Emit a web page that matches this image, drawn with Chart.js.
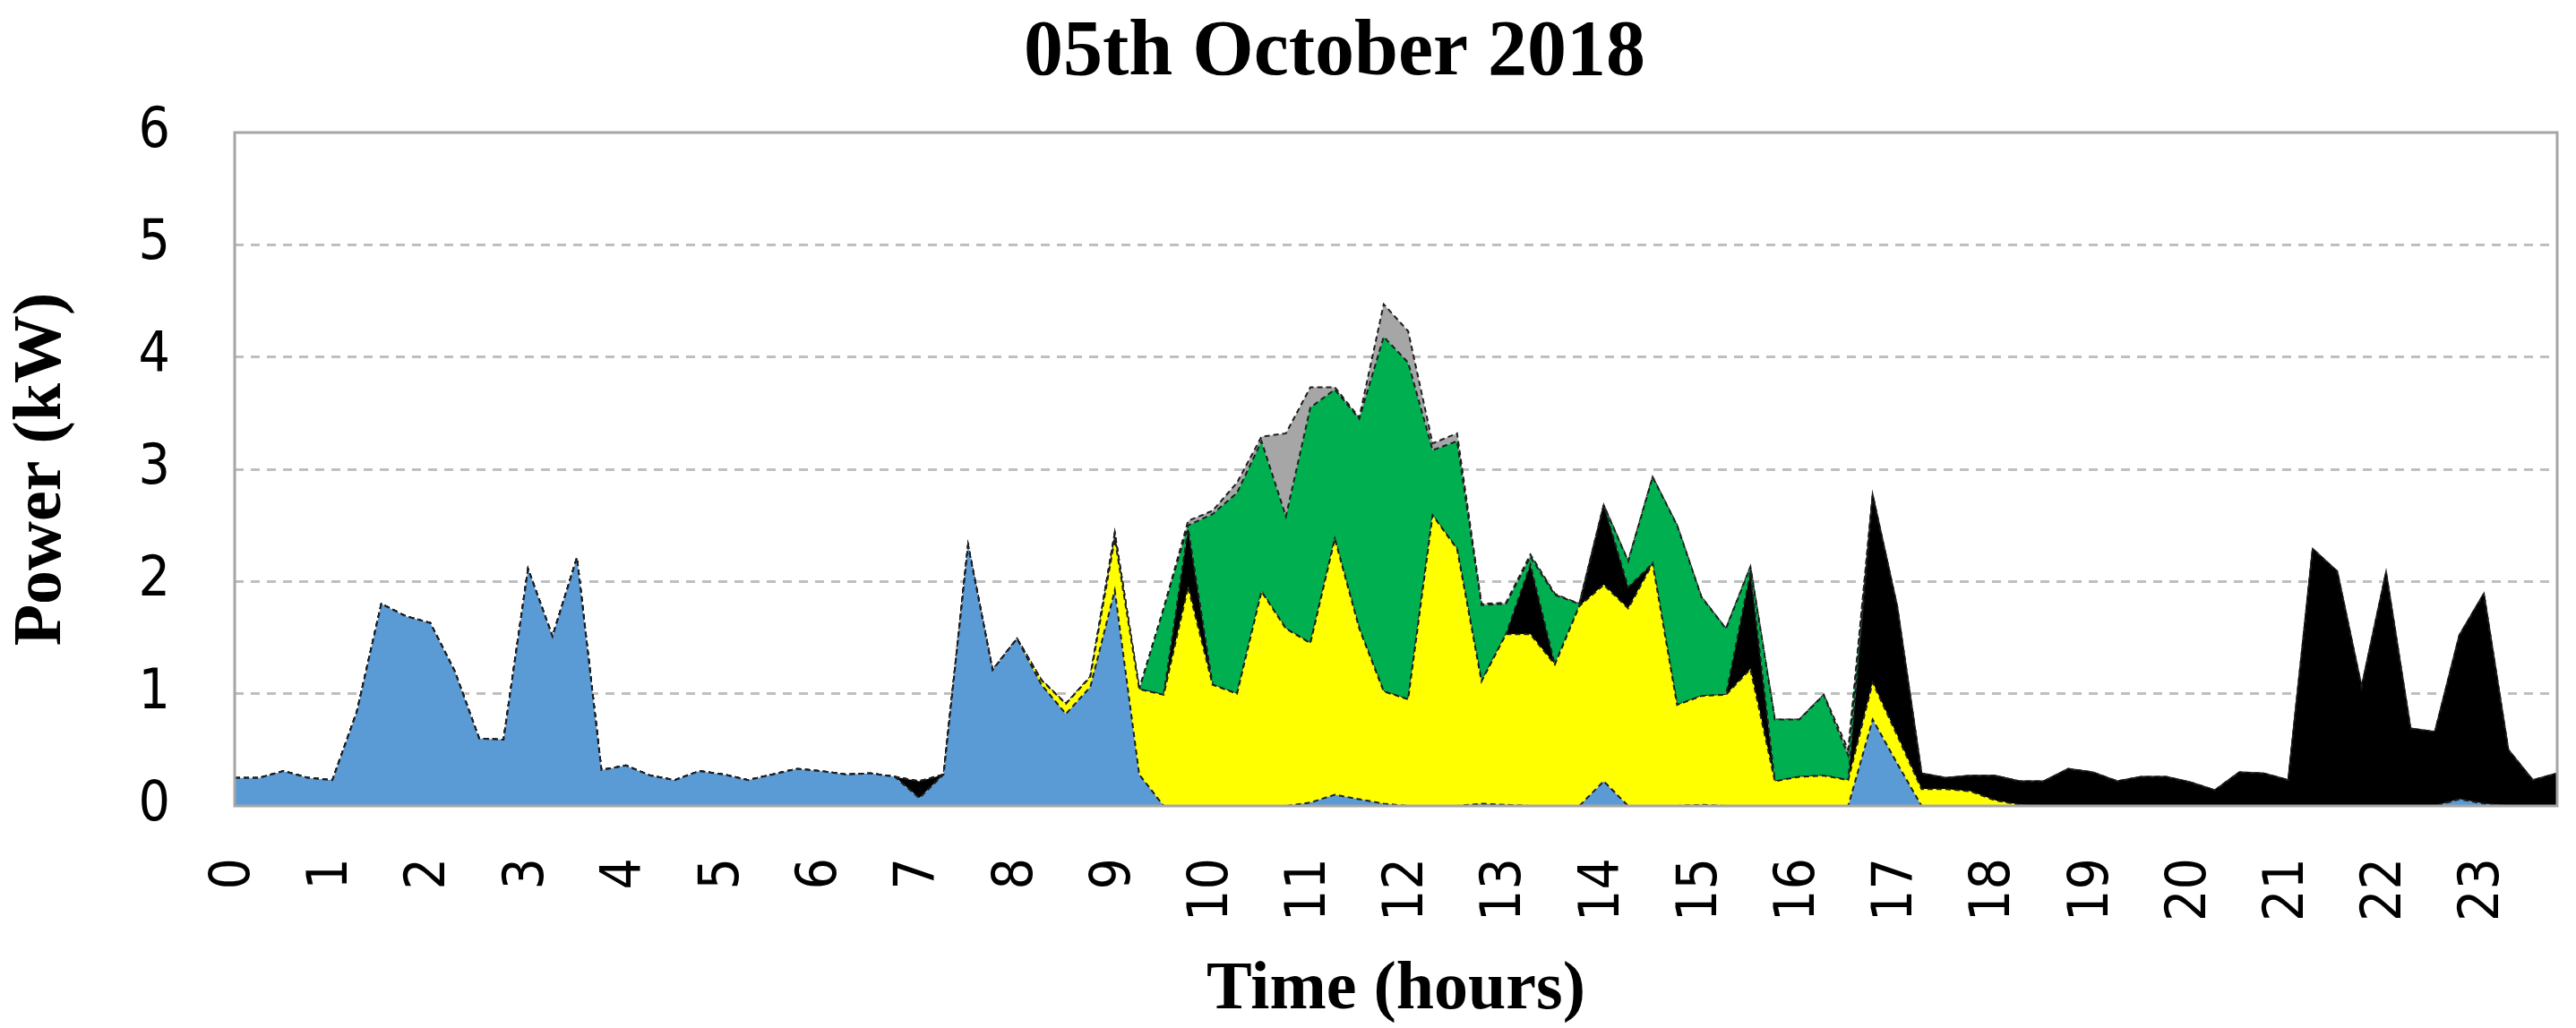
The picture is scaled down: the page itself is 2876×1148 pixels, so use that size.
<!DOCTYPE html>
<html>
<head>
<meta charset="utf-8">
<script src="https://cdn.jsdelivr.net/npm/chart.js@4.4.1/dist/chart.umd.min.js"></script>
<style>
  html, body { margin: 0; padding: 0; background: #ffffff; }
  #contenedor { width: 2876px; height: 1148px; }
</style>
</head>
<body>
<div id="contenedor"><canvas id="grafico"></canvas></div>
<script>
const TITULO = "05th October 2018";
const HORAS = ["0", "1", "2", "3", "4", "5", "6", "7", "8", "9", "10", "11",
  "12", "13", "14", "15", "16", "17", "18", "19", "20", "21", "22", "23"];
const PASOS_POR_HORA = 4;

const AZUL = [
  0.25, 0.25, 0.31, 0.25, 0.23, 0.84, 1.80, 1.69, 1.63, 1.20, 0.60, 0.59,
  2.11, 1.51, 2.21, 0.32, 0.36, 0.27, 0.23, 0.31, 0.28, 0.23, 0.28, 0.33,
  0.31, 0.28, 0.29, 0.26, 0.07, 0.28, 2.32, 1.21, 1.49, 1.08, 0.82, 1.06,
  1.92, 0.28, 0, 0, 0, 0, 0, 0, 0.03, 0.10, 0.06, 0.02,
  0, 0, 0, 0.02, 0.01, 0, 0, 0, 0.22, 0, 0, 0,
  0.01, 0, 0, 0, 0, 0, 0, 0.77, 0.38, 0, 0, 0,
  0, 0, 0, 0, 0, 0, 0, 0, 0, 0, 0, 0,
  0, 0, 0, 0, 0, 0, 0, 0.06, 0.02, 0, 0, 0
];
const AMARILLO = [
  0, 0, 0, 0, 0, 0, 0, 0, 0, 0, 0, 0,
  0, 0, 0, 0, 0, 0, 0, 0, 0, 0, 0, 0,
  0, 0, 0, 0, 0, 0, 0, 0, 0, 0.04, 0.09, 0.09,
  0.46, 0.76, 0.99, 1.95, 1.08, 1.00, 1.91, 1.58, 1.42, 2.28, 1.52, 1.00,
  0.95, 2.59, 2.29, 1.09, 1.52, 1.53, 1.26, 1.78, 1.75, 1.76, 2.16, 0.90,
  0.97, 0.99, 1.22, 0.22, 0.26, 0.27, 0.23, 0.33, 0.25, 0.15, 0.15, 0.13,
  0.05, 0.01, 0, 0, 0, 0, 0, 0, 0, 0, 0, 0,
  0, 0, 0, 0, 0, 0, 0, 0, 0, 0, 0, 0
];
const NEGRO = [
  0, 0, 0, 0, 0, 0, 0, 0, 0, 0, 0, 0,
  0, 0, 0, 0, 0, 0, 0, 0, 0, 0, 0, 0,
  0, 0, 0, 0, 0.15, 0, 0, 0, 0, 0, 0, 0,
  0.05, 0, 0, 0.52, 0, 0, 0, 0, 0, 0, 0, 0,
  0, 0, 0, 0, 0, 0.62, 0, 0, 0.71, 0.19, 0, 0,
  0, 0, 0.86, 0, 0, 0, 0, 1.67, 1.15, 0.14, 0.10, 0.14,
  0.22, 0.21, 0.22, 0.33, 0.30, 0.22, 0.26, 0.26, 0.21, 0.14, 0.30, 0.29,
  0.23, 2.29, 2.09, 1.06, 2.08, 0.69, 0.66, 1.46, 1.87, 0.50, 0.23, 0.29
];
const VERDE = [
  0, 0, 0, 0, 0, 0, 0, 0, 0, 0, 0, 0,
  0, 0, 0, 0, 0, 0, 0, 0, 0, 0, 0, 0,
  0, 0, 0, 0, 0, 0, 0, 0, 0, 0, 0, 0,
  0, 0, 0.77, 0.03, 1.52, 1.79, 1.34, 1.00, 2.10, 1.33, 1.87, 3.16,
  3.00, 0.58, 0.96, 0.68, 0.27, 0.07, 0.62, 0.02, 0, 0.23, 0.77, 1.60,
  0.88, 0.59, 0.05, 0.55, 0.51, 0.72, 0.22, 0, 0, 0, 0, 0,
  0, 0, 0, 0, 0, 0, 0, 0, 0, 0, 0, 0,
  0, 0, 0, 0, 0, 0, 0, 0, 0, 0, 0, 0
];
const GRIS = [
  0, 0, 0, 0, 0, 0, 0, 0, 0, 0, 0, 0,
  0, 0, 0, 0, 0, 0, 0, 0, 0, 0, 0, 0,
  0, 0, 0, 0, 0, 0, 0, 0, 0, 0, 0, 0,
  0, 0, 0, 0.04, 0.03, 0.09, 0.04, 0.74, 0.18, 0.02, 0.01, 0.29,
  0.28, 0.06, 0.07, 0.01, 0.01, 0.02, 0.01, 0, 0, 0, 0, 0,
  0, 0, 0, 0, 0, 0, 0.05, 0, 0, 0, 0, 0,
  0, 0, 0, 0, 0, 0, 0, 0, 0, 0, 0, 0,
  0, 0, 0, 0, 0, 0, 0, 0, 0, 0, 0, 0
];

const SERIES = [AZUL, AMARILLO, NEGRO, VERDE, GRIS];
const COLORES = ["#5b9bd5", "#ffff00", "#000000", "#00b050", "#a6a6a6"];

// una categoria por cada cuarto de hora, solo la hora en punto lleva texto
function crearCategorias() {
  const categorias = [];
  HORAS.forEach((hora) => {
    categorias.push(hora);
    for (let i = 1; i < PASOS_POR_HORA; i += 1) {
      categorias.push("");
    }
  });
  return categorias;
}

const FUENTE_NUMEROS = "'DejaVu Sans Condensed', 'DejaVu Sans', sans-serif";
const FUENTE_TITULOS = "'Liberation Serif', 'Times New Roman', serif";

const pluginMarco = {
  id: "marcoPlot",
  afterDatasetsDraw(chart) {
    const { ctx, chartArea } = chart;
    ctx.save();
    ctx.strokeStyle = "#a6a6a6";
    ctx.lineWidth = 3;
    ctx.strokeRect(chartArea.left, chartArea.top,
      chartArea.right - chartArea.left, chartArea.bottom - chartArea.top);
    ctx.restore();
  }
};

// el titulo del original no esta centrado en el lienzo, va un poco a la derecha
const pluginTitulo = {
  id: "tituloDesplazado",
  afterDraw(chart) {
    const { ctx, width } = chart;
    ctx.save();
    ctx.fillStyle = "#000000";
    ctx.font = "bold 88px " + FUENTE_TITULOS;
    ctx.textAlign = "center";
    ctx.textBaseline = "middle";
    ctx.fillText(TITULO, width / 2 + 52, 60);
    ctx.restore();
  }
};

function crearDatasets() {
  return SERIES.map((valores, indice) => ({
    data: valores,
    backgroundColor: COLORES[indice],
    borderColor: "#1e1e1e",
    borderWidth: 2,
    borderDash: [6, 4],
    fill: indice === 0 ? "origin" : "-1",
    pointRadius: 0,
    tension: 0
  }));
}

function iniciarGrafico() {
  const ctx = document.getElementById("grafico");

  new Chart(ctx, {
    type: "line",
    data: {
      labels: crearCategorias(),
      datasets: crearDatasets()
    },
    options: {
      responsive: true,
      maintainAspectRatio: false,
      animation: false,
      layout: {
        padding: { left: 0, right: 21, top: 148, bottom: 0 }
      },
      plugins: {
        legend: { display: false },
        tooltip: { enabled: false },
        title: { display: false }
      },
      scales: {
        x: {
          type: "category",
          offset: false,
          grid: { display: false },
          border: { display: false },
          ticks: {
            autoSkip: false,
            minRotation: 90,
            maxRotation: 90,
            padding: 50,
            color: "#000000",
            font: { family: FUENTE_NUMEROS, size: 62 }
          },
          title: {
            display: true,
            text: "Time (hours)",
            color: "#000000",
            font: { family: FUENTE_TITULOS, size: 76, weight: "bold", lineHeight: 1 },
            padding: { top: 0, bottom: 4 }
          },
          afterFit(escala) {
            escala.height = 248;
            escala.paddingLeft = 0;
            escala.paddingRight = 0;
          }
        },
        y: {
          stacked: true,
          min: 0,
          max: 6,
          grid: {
            color(contexto) {
              const v = contexto.tick ? contexto.tick.value : 0;
              return v === 0 || v === 6 ? "rgba(0,0,0,0)" : "#bfbfbf";
            },
            lineWidth: 3,
            drawTicks: false
          },
          border: { display: false, dash: [10, 8] },
          ticks: {
            stepSize: 1,
            padding: 72,
            color: "#000000",
            font: { family: FUENTE_NUMEROS, size: 62 }
          },
          title: {
            display: true,
            text: "Power (kW)",
            color: "#000000",
            font: { family: FUENTE_TITULOS, size: 76, weight: "bold", lineHeight: 1.2 },
            padding: { top: 2, bottom: 0 }
          },
          afterFit(escala) {
            escala.width = 262;
          }
        }
      }
    },
    plugins: [pluginMarco, pluginTitulo]
  });
}

document.addEventListener("DOMContentLoaded", iniciarGrafico);
</script>
</body>
</html>
